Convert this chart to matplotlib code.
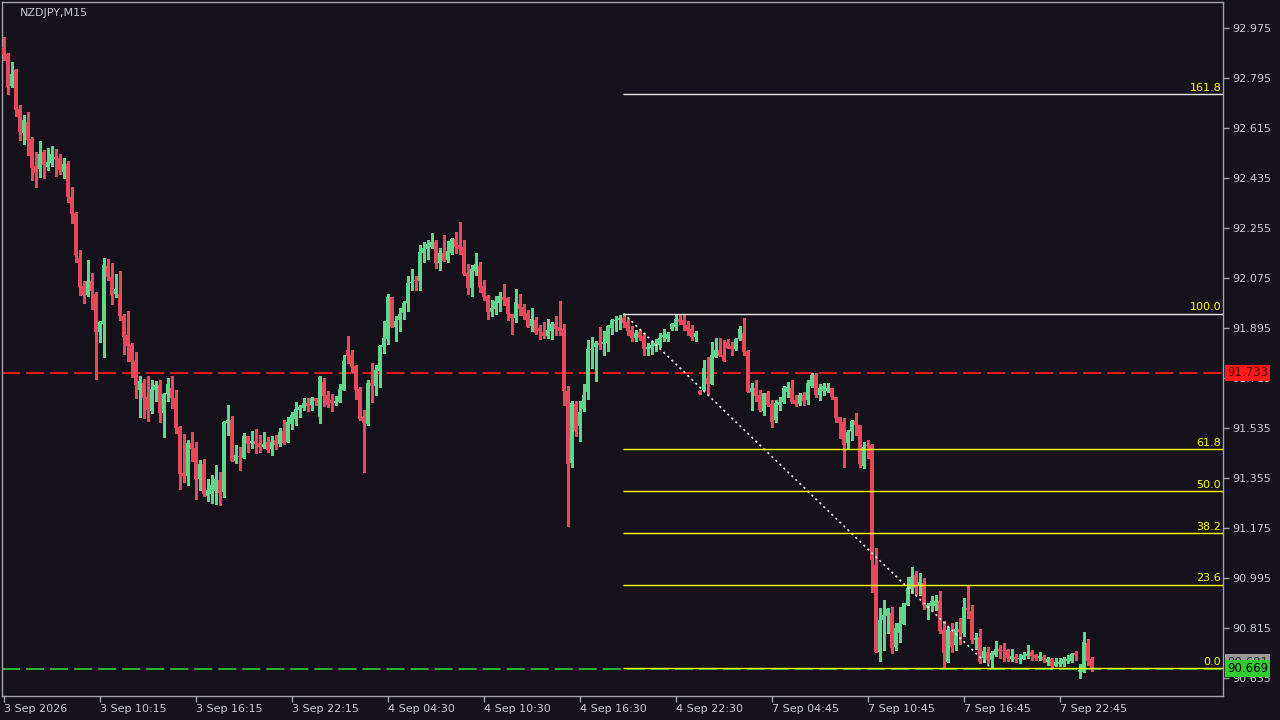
import matplotlib
matplotlib.use("Agg")
import matplotlib.pyplot as plt
import numpy as np

plt.rcParams['lines.scale_dashes'] = False

# ---- data: NZDJPY M15, bar by bar ----
opens = [
    92.907, 92.881, 92.766, 92.824, 92.683, 92.597, 92.637, 92.575, 92.478, 92.467, 92.529, 92.475,
    92.489, 92.511, 92.507, 92.457, 92.485, 92.367, 92.309, 92.147, 92.046, 92.014, 92.064, 92.018,
    91.881, 91.910, 92.118, 92.079, 92.018, 92.018, 91.939, 91.870, 91.834, 91.776, 91.672, 91.697,
    91.647, 91.596, 91.672, 91.690, 91.589, 91.658, 91.679, 91.643, 91.539, 91.373, 91.362, 91.481,
    91.463, 91.351, 91.406, 91.290, 91.297, 91.308, 91.348, 91.305, 91.553, 91.564, 91.416, 91.434,
    91.427, 91.506, 91.481, 91.488, 91.481, 91.467, 91.485, 91.459, 91.492, 91.477, 91.524, 91.485,
    91.549, 91.567, 91.600, 91.607, 91.625, 91.618, 91.643, 91.575, 91.701, 91.654, 91.636, 91.625,
    91.629, 91.672, 91.816, 91.798, 91.758, 91.676, 91.575, 91.549, 91.697, 91.686, 91.740, 91.827,
    91.856, 92.007, 91.899, 91.924, 91.949, 91.985, 92.057, 92.068, 92.064, 92.165, 92.180, 92.187,
    92.205, 92.129, 92.165, 92.140, 92.165, 92.216, 92.194, 92.187, 92.093, 92.039, 92.100, 92.118,
    92.046, 92.010, 91.953, 91.964, 91.985, 92.007, 92.003, 91.946, 91.931, 91.982, 91.971, 91.949,
    91.902, 91.924, 91.895, 91.881, 91.866, 91.884, 91.910, 91.899, 91.892, 91.668, 91.409, 91.622,
    91.542, 91.604, 91.665, 91.816, 91.827, 91.841, 91.838, 91.841, 91.895, 91.920, 91.924, 91.931,
    91.917, 91.888, 91.859, 91.881, 91.866, 91.820, 91.823, 91.830, 91.834, 91.863, 91.856, 91.892,
    91.899, 91.928, 91.924, 91.906, 91.892, 91.863, 91.668, 91.672, 91.715, 91.694, 91.791, 91.816,
    91.798, 91.845, 91.830, 91.820, 91.856, 91.877, 91.812, 91.665, 91.679, 91.654, 91.596, 91.661,
    91.622, 91.564, 91.618, 91.629, 91.665, 91.679, 91.636, 91.622, 91.654, 91.636, 91.686, 91.726,
    91.654, 91.668, 91.668, 91.679, 91.647, 91.575, 91.557, 91.481, 91.524, 91.560, 91.546, 91.398,
    91.474, 91.474, 91.042, 90.729, 90.844, 90.858, 90.869, 90.747, 90.797, 90.830, 90.898, 90.956,
    91.006, 90.966, 90.977, 90.887, 90.894, 90.894, 90.912, 90.808, 90.693, 90.804, 90.754, 90.812,
    90.797, 90.887, 90.876, 90.772, 90.783, 90.707, 90.729, 90.700, 90.718, 90.739, 90.736, 90.736,
    90.704, 90.711, 90.704, 90.704, 90.714, 90.729, 90.718, 90.707, 90.711, 90.693, 90.704, 90.679,
    90.686, 90.686, 90.696, 90.696, 90.725, 90.657, 90.657, 90.761, 90.704,
]
highs = [
    92.943, 92.885, 92.853, 92.827, 92.698, 92.662, 92.673, 92.583, 92.529, 92.568, 92.536, 92.543,
    92.550, 92.539, 92.521, 92.507, 92.496, 92.403, 92.313, 92.176, 92.064, 92.140, 92.093, 92.025,
    91.920, 92.147, 92.143, 92.129, 92.089, 92.100, 91.946, 91.957, 91.841, 91.809, 91.722, 91.711,
    91.722, 91.708, 91.704, 91.708, 91.661, 91.715, 91.722, 91.672, 91.542, 91.513, 91.492, 91.521,
    91.485, 91.420, 91.424, 91.351, 91.366, 91.402, 91.377, 91.560, 91.618, 91.578, 91.474, 91.467,
    91.517, 91.506, 91.524, 91.532, 91.510, 91.521, 91.503, 91.506, 91.510, 91.535, 91.564, 91.575,
    91.593, 91.629, 91.618, 91.643, 91.643, 91.647, 91.643, 91.722, 91.715, 91.668, 91.658, 91.650,
    91.694, 91.798, 91.866, 91.816, 91.762, 91.683, 91.600, 91.708, 91.769, 91.762, 91.834, 91.920,
    92.018, 92.007, 91.939, 91.967, 91.993, 92.082, 92.107, 92.082, 92.194, 92.205, 92.212, 92.237,
    92.212, 92.183, 92.230, 92.208, 92.219, 92.241, 92.277, 92.212, 92.125, 92.122, 92.165, 92.133,
    92.068, 92.014, 91.996, 92.010, 92.025, 92.054, 92.007, 91.946, 92.036, 92.018, 91.982, 91.960,
    91.967, 91.935, 91.906, 91.917, 91.928, 91.917, 91.939, 91.993, 91.910, 91.686, 91.632, 91.632,
    91.632, 91.694, 91.852, 91.863, 91.848, 91.899, 91.884, 91.906, 91.928, 91.939, 91.942, 91.947,
    91.928, 91.902, 91.888, 91.888, 91.877, 91.841, 91.848, 91.856, 91.877, 91.892, 91.881, 91.913,
    91.942, 91.942, 91.942, 91.920, 91.906, 91.884, 91.672, 91.780, 91.791, 91.845, 91.859, 91.859,
    91.852, 91.856, 91.845, 91.859, 91.902, 91.931, 91.816, 91.697, 91.708, 91.672, 91.661, 91.668,
    91.636, 91.636, 91.647, 91.686, 91.701, 91.708, 91.654, 91.661, 91.665, 91.708, 91.733, 91.733,
    91.694, 91.697, 91.697, 91.679, 91.647, 91.575, 91.571, 91.528, 91.564, 91.589, 91.546, 91.485,
    91.492, 91.477, 91.103, 90.887, 90.916, 90.887, 90.891, 90.833, 90.891, 90.905, 90.999, 91.035,
    91.020, 91.013, 90.995, 90.905, 90.930, 90.934, 90.948, 90.840, 90.819, 90.833, 90.837, 90.851,
    90.923, 90.970, 90.898, 90.797, 90.812, 90.747, 90.747, 90.732, 90.768, 90.754, 90.761, 90.739,
    90.739, 90.721, 90.721, 90.729, 90.754, 90.736, 90.721, 90.729, 90.718, 90.711, 90.707, 90.707,
    90.707, 90.711, 90.718, 90.725, 90.732, 90.686, 90.801, 90.775, 90.711,
]
lows = [
    92.860, 92.737, 92.763, 92.658, 92.572, 92.558, 92.518, 92.428, 92.403, 92.439, 92.435, 92.464,
    92.478, 92.442, 92.450, 92.435, 92.349, 92.273, 92.133, 92.014, 91.985, 92.010, 91.963, 91.711,
    91.845, 91.791, 92.068, 91.982, 92.007, 91.924, 91.802, 91.776, 91.719, 91.643, 91.575, 91.571,
    91.560, 91.589, 91.632, 91.557, 91.503, 91.632, 91.607, 91.517, 91.315, 91.341, 91.330, 91.416,
    91.279, 91.312, 91.290, 91.272, 91.265, 91.261, 91.258, 91.287, 91.510, 91.416, 91.409, 91.384,
    91.427, 91.449, 91.463, 91.445, 91.449, 91.463, 91.449, 91.438, 91.459, 91.470, 91.477, 91.485,
    91.531, 91.546, 91.575, 91.600, 91.596, 91.600, 91.618, 91.553, 91.614, 91.611, 91.596, 91.618,
    91.629, 91.672, 91.769, 91.737, 91.640, 91.564, 91.377, 91.546, 91.629, 91.654, 91.683, 91.805,
    91.838, 91.899, 91.848, 91.884, 91.928, 91.956, 92.032, 92.032, 92.032, 92.133, 92.144, 92.183,
    92.111, 92.104, 92.136, 92.133, 92.162, 92.165, 92.162, 92.086, 92.018, 92.010, 92.086, 92.025,
    91.996, 91.928, 91.939, 91.946, 91.956, 91.978, 91.924, 91.874, 91.917, 91.942, 91.928, 91.899,
    91.884, 91.874, 91.856, 91.859, 91.859, 91.856, 91.870, 91.870, 91.618, 91.182, 91.395, 91.506,
    91.488, 91.596, 91.640, 91.751, 91.704, 91.820, 91.798, 91.812, 91.874, 91.884, 91.892, 91.899,
    91.870, 91.848, 91.848, 91.852, 91.798, 91.798, 91.802, 91.812, 91.827, 91.848, 91.848, 91.888,
    91.888, 91.910, 91.888, 91.870, 91.852, 91.848, 91.658, 91.672, 91.658, 91.694, 91.791, 91.794,
    91.776, 91.823, 91.798, 91.816, 91.852, 91.798, 91.665, 91.600, 91.632, 91.596, 91.582, 91.614,
    91.539, 91.557, 91.600, 91.625, 91.647, 91.625, 91.614, 91.618, 91.618, 91.622, 91.683, 91.647,
    91.636, 91.654, 91.665, 91.640, 91.557, 91.499, 91.395, 91.463, 91.492, 91.510, 91.395, 91.391,
    91.427, 90.945, 90.729, 90.696, 90.736, 90.797, 90.725, 90.736, 90.765, 90.830, 90.898, 90.941,
    90.938, 90.934, 90.884, 90.848, 90.880, 90.880, 90.797, 90.671, 90.693, 90.729, 90.736, 90.758,
    90.787, 90.851, 90.761, 90.739, 90.689, 90.693, 90.689, 90.670, 90.714, 90.707, 90.696, 90.696,
    90.696, 90.693, 90.689, 90.704, 90.707, 90.700, 90.700, 90.700, 90.693, 90.682, 90.675, 90.679,
    90.679, 90.679, 90.689, 90.693, 90.700, 90.635, 90.657, 90.682, 90.659,
]
closes = [
    92.878, 92.763, 92.809, 92.680, 92.601, 92.644, 92.572, 92.471, 92.453, 92.521, 92.482, 92.493,
    92.521, 92.503, 92.464, 92.485, 92.367, 92.305, 92.158, 92.043, 92.014, 92.064, 92.028, 91.881,
    91.917, 92.122, 92.079, 92.014, 92.036, 91.939, 91.863, 91.830, 91.773, 91.690, 91.704, 91.643,
    91.600, 91.675, 91.690, 91.589, 91.658, 91.694, 91.643, 91.535, 91.369, 91.362, 91.481, 91.459,
    91.351, 91.406, 91.297, 91.312, 91.330, 91.351, 91.301, 91.557, 91.564, 91.416, 91.438, 91.431,
    91.506, 91.477, 91.488, 91.477, 91.467, 91.477, 91.456, 91.485, 91.474, 91.521, 91.481, 91.557,
    91.582, 91.604, 91.611, 91.625, 91.614, 91.643, 91.632, 91.719, 91.650, 91.618, 91.625, 91.632,
    91.675, 91.776, 91.794, 91.755, 91.672, 91.567, 91.553, 91.697, 91.686, 91.744, 91.830, 91.859,
    92.007, 91.899, 91.920, 91.946, 91.985, 92.057, 92.061, 92.064, 92.169, 92.183, 92.198, 92.205,
    92.129, 92.165, 92.136, 92.172, 92.216, 92.187, 92.180, 92.089, 92.039, 92.107, 92.125, 92.043,
    92.007, 91.953, 91.967, 91.993, 92.010, 91.996, 91.946, 91.931, 91.989, 91.964, 91.939, 91.899,
    91.928, 91.877, 91.884, 91.866, 91.888, 91.910, 91.892, 91.884, 91.668, 91.406, 91.625, 91.524,
    91.593, 91.654, 91.820, 91.820, 91.841, 91.834, 91.845, 91.902, 91.924, 91.924, 91.931, 91.913,
    91.884, 91.859, 91.877, 91.859, 91.820, 91.827, 91.834, 91.841, 91.859, 91.870, 91.874, 91.910,
    91.928, 91.917, 91.906, 91.884, 91.863, 91.877, 91.658, 91.751, 91.694, 91.798, 91.816, 91.794,
    91.776, 91.823, 91.820, 91.856, 91.892, 91.809, 91.665, 91.679, 91.650, 91.600, 91.661, 91.618,
    91.557, 91.625, 91.629, 91.679, 91.683, 91.629, 91.622, 91.654, 91.632, 91.697, 91.726, 91.654,
    91.679, 91.686, 91.679, 91.647, 91.571, 91.553, 91.474, 91.521, 91.560, 91.546, 91.406, 91.467,
    91.470, 91.060, 90.729, 90.844, 90.862, 90.884, 90.743, 90.815, 90.833, 90.905, 90.959, 90.999,
    90.959, 90.981, 90.898, 90.898, 90.912, 90.912, 90.804, 90.725, 90.808, 90.747, 90.812, 90.801,
    90.891, 90.880, 90.772, 90.779, 90.693, 90.732, 90.700, 90.725, 90.739, 90.732, 90.732, 90.707,
    90.714, 90.704, 90.707, 90.718, 90.721, 90.714, 90.707, 90.714, 90.700, 90.704, 90.679, 90.693,
    90.693, 90.704, 90.704, 90.721, 90.718, 90.664, 90.765, 90.696, 90.669,
]

price_ticks = [92.975, 92.795, 92.615, 92.435, 92.255, 92.075, 91.895, 91.715,
               91.535, 91.355, 91.175, 90.995, 90.815, 90.635]
time_ticks = [0, 24, 48, 72, 96, 120, 144, 168, 192, 216, 240, 264]
time_labels = ['3 Sep 2026', '3 Sep 10:15', '3 Sep 16:15', '3 Sep 22:15', '4 Sep 04:30',
               '4 Sep 10:30', '4 Sep 16:30', '4 Sep 22:30', '7 Sep 04:45', '7 Sep 10:45',
               '7 Sep 16:45', '7 Sep 22:45']

alert_level = 91.733
bid = 90.669
ask_label = 90.691
fib_start = (155, 91.947)
fib_end = (247, 90.670)
fib_levels = [0.0, 23.6, 38.2, 50.0, 61.8, 100.0, 161.8]

# ---- style ----
BG = '#15121c'
UP = '#5fd68c'
DOWN = '#e8485c'
TXT = '#c9c9cf'
FRAME = '#a3a3ad'
YELLOW = '#ffff00'

fig = plt.figure(figsize=(12.8, 7.2), dpi=100, facecolor=BG)
ax = fig.add_axes([2 / 1280, 24 / 720, 1221 / 1280, 694 / 720])
ax.set_facecolor(BG)

o = np.array(opens)
h = np.array(highs)
l = np.array(lows)
c = np.array(closes)
x = np.arange(len(c))
up = c >= o
colors = np.where(up, UP, DOWN)

ax.vlines(x, l, h, colors=colors, linewidth=1, antialiased=False, zorder=3)
body_lo = np.minimum(o, c)
body_h = np.maximum(np.abs(c - o), 0.0036)
ax.bar(x, body_h, bottom=body_lo, width=0.62, color=colors, linewidth=0,
       antialiased=False, zorder=4)

ax.set_xlim(-0.375, 304.875)
ax.set_ylim(90.5702, 93.0686)

# dashed horizontal lines
ax.axhline(alert_level, color='#ff1a1a', linewidth=1.3, linestyle=(0, (13, 4.3)), zorder=2)
ax.axhline(bid, color='#2fbf3a', linewidth=1.3, linestyle=(0, (13, 4.3)), zorder=2)

# fibonacci retracement
x0, p0 = fib_start
x1, p1 = fib_end
ax.plot([x0, x1], [p0, p1], color='#e6e6e6', linewidth=1.2, linestyle=(0, (1.6, 2.4)), zorder=5)
for lv in fib_levels:
    price = p1 + (p0 - p1) * lv / 100.0
    col = '#e8e8e8' if lv in (100.0, 161.8) else YELLOW
    ax.plot([x0 - 0.1, 304.875], [price, price], color=col, linewidth=1, zorder=5,
            solid_capstyle='butt')
    ax.text(304.4, price + 0.004, f'{lv:.1f}', color=YELLOW, fontsize=8,
            ha='right', va='bottom', zorder=6)

# axes cosmetics
for s in ax.spines.values():
    s.set_color(FRAME)
    s.set_linewidth(1)
ax.yaxis.tick_right()
ax.set_yticks(price_ticks)
ax.set_yticklabels([f'{p:.3f}' for p in price_ticks])
ax.set_xticks(time_ticks)
ax.set_xticklabels(time_labels)
for lab in ax.get_xticklabels():
    lab.set_ha('left')
ax.tick_params(axis='y', colors=FRAME, labelcolor=TXT, labelsize=8, length=4, pad=3, width=1)
ax.tick_params(axis='x', colors=FRAME, labelcolor=TXT, labelsize=8, length=4, pad=2, width=1)

ax.text(0.0148, 0.992, 'NZDJPY,M15', transform=ax.transAxes, color=TXT, fontsize=8,
        ha='left', va='top')

# price labels on the right scale
def price_box(price, text, fc, tc):
    ax.annotate(text, xy=(1.0, price), xycoords=('axes fraction', 'data'),
                xytext=(4, 0), textcoords='offset pixels', color=tc, fontsize=8.5,
                ha='left', va='center', annotation_clip=False, zorder=10,
                bbox=dict(boxstyle='square,pad=0.15', fc=fc, ec='none'))

price_box(alert_level, f'{alert_level:.3f}', '#ff1a1a', '#5a0000')
price_box(ask_label, f'{ask_label:.3f}', '#9a9a9a', '#2a2a2a')
price_box(bid, f'{bid:.3f}', '#32cd32', '#000000')

fig.savefig('out.png', dpi=100, facecolor=BG)
